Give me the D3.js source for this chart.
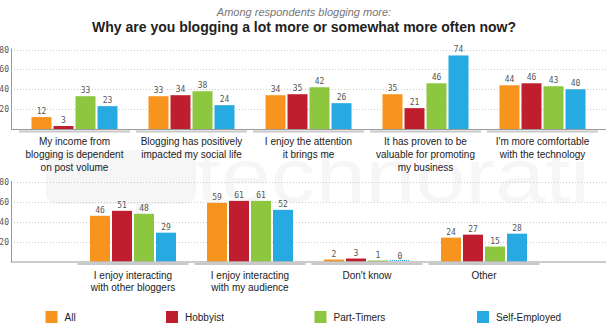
<!DOCTYPE html>
<html><head><meta charset="utf-8">
<script src="https://cdn.jsdelivr.net/npm/d3@7"></script>
<style>
body{margin:0;background:#fff;}
svg{display:block;font-family:"Liberation Sans",Arial,Helvetica,sans-serif;}
</style></head>
<body><svg id="c" width="606" height="333"></svg>
<script>
const series = ["All","Hobbyist","Part-Timers","Self-Employed"];
const colors = ["#F7941D","#BE1E2D","#8DC63F","#27AAE1"];
const topCategories = [
  ["My income from","blogging is dependent","on post volume"],
  ["Blogging has positively","impacted my social life"],
  ["I enjoy the attention","it brings me"],
  ["It has proven to be","valuable for promoting","my business"],
  ["I'm more comfortable","with the technology"]
];
const topValues = [
  [12,3,33,23],
  [33,34,38,24],
  [34,35,42,26],
  [35,21,46,74],
  [44,46,43,40]
];
const bottomCategories = [
  ["I enjoy interacting","with other bloggers"],
  ["I enjoy interacting","with my audience"],
  ["Don't know"],
  ["Other"]
];
const bottomValues = [
  [46,51,48,29],
  [59,61,61,52],
  [2,3,1,0],
  [24,27,15,28]
];
const yTicks = [20,40,60,80];
const subtitle = "Among respondents blogging more:";
const title = "Why are you blogging a lot more or somewhat more often now?";

const svg = d3.select("#c");

// watermark
const wm = svg.append("g").attr("fill","#f6f6f6");
wm.append("path").attr("d","M58,150 h126 q12,0 12,12 v30 q0,12 -12,12 h-32 l-16,16 v-16 h-78 q-12,0 -12,-12 v-30 q0,-12 12,-12z");
wm.append("text").attr("x",196).attr("y",202).attr("font-size",76)
  .attr("textLength",394).attr("lengthAdjust","spacingAndGlyphs").text("technorati");

svg.append("text").attr("x",304).attr("y",16).attr("text-anchor","middle")
  .attr("font-size",11).attr("font-style","italic").attr("fill","#777").text(subtitle);
svg.append("text").attr("x",304).attr("y",32).attr("text-anchor","middle")
  .attr("font-size",14).attr("font-weight","bold").attr("fill","#222").text(title);

function panel(cats, vals, xr, y0, y80, lineY, lineH) {
  const g = svg.append("g");
  const y = d3.scaleLinear().domain([0,80]).range([y0,y80]);
  const x0 = d3.scaleBand().domain(d3.range(cats.length)).range(xr);
  const x1 = d3.scaleBand().domain(series).range([0,86]).paddingInner(2/22);
  const off = (x0.bandwidth()-86)/2;
  // grid
  g.selectAll(".grid").data(yTicks).join("line")
    .attr("x1",11).attr("x2",606).attr("y1",d=>Math.round(y(d))+0.5).attr("y2",d=>Math.round(y(d))+0.5)
    .attr("stroke","#ccc").attr("stroke-dasharray","1,2");
  g.selectAll(".tl").data(yTicks).join("text")
    .attr("x",9).attr("y",d=>y(d)+3).attr("text-anchor","end")
    .attr("font-size",8).attr("font-family","'DejaVu Sans Mono',monospace").attr("fill","#555").text(d=>d);
  // underline
  g.selectAll(".ul").data(cats).join("line")
    .attr("x1",(d,i)=>x0(i)+3).attr("x2",(d,i)=>x0(i)+x0.bandwidth()-3)
    .attr("y1",y0+2.5).attr("y2",y0+2.5).attr("stroke","#c8c8c8").attr("stroke-width",2);
  // bars
  vals.forEach((row,i)=>{
    const gg = g.append("g").attr("transform",`translate(${x0(i)+off},0)`);
    row.forEach((v,j)=>{
      const bx = x1(series[j]);
      if (v>0) {
        gg.append("rect").attr("x",bx).attr("width",x1.bandwidth())
          .attr("y",y(v)).attr("height",y0-y(v)).attr("fill",colors[j]);
      } else {
        gg.append("line").attr("x1",bx).attr("x2",bx+x1.bandwidth()).attr("y1",y0-1).attr("y2",y0-1)
          .attr("stroke",colors[j]).attr("stroke-dasharray","1,1");
      }
      gg.append("text").attr("x",bx+x1.bandwidth()/2).attr("y",y(v)-3).attr("text-anchor","middle")
        .attr("font-size",8).attr("font-family","'DejaVu Sans Mono',monospace").attr("fill","#555").text(v);
    });
    const t = g.append("text").attr("text-anchor","middle").attr("font-size",10).attr("fill","#222");
    cats[i].forEach((ln,k)=>{
      t.append("tspan").attr("x",x0(i)+x0.bandwidth()/2).attr("y",lineY+k*lineH).text(ln);
    });
  });
  // axes
  g.append("line").attr("x1",11).attr("x2",606).attr("y1",y0+0.5).attr("y2",y0+0.5).attr("stroke","#999");
  g.append("line").attr("x1",11.5).attr("x2",11.5).attr("y1",y80-1).attr("y2",y0+1).attr("stroke","#999");
}

panel(topCategories, topValues, [16,601], 129, 49.5, 144.5, 13.3);
panel(bottomCategories, bottomValues, [74.5,542.5], 261.5, 182, 278.5, 12.2);

// legend
const legX = [45.5,166,314.5,477];
const lg = svg.selectAll(".lg").data(series).join("g").attr("transform",(d,i)=>`translate(${legX[i]},311)`);
lg.append("rect").attr("width",12).attr("height",12).attr("fill",(d,i)=>colors[i]);
lg.append("text").attr("x",19).attr("y",9.7).attr("font-size",10).attr("fill","#222").text(d=>d);
</script></body></html>
